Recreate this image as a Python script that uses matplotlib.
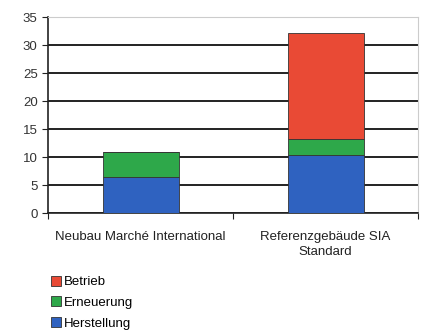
import matplotlib.pyplot as plt
import numpy as np

plt.rcParams['font.family'] = ['Liberation Sans', 'DejaVu Sans']

categories = ['Neubau Marché International', 'Referenzgebäude SIA\nStandard']
herstellung = [6.5, 10.3]
erneuerung = [4.5, 2.9]
betrieb = [0.0, 18.9]

fig = plt.figure(figsize=(4.25, 3.3), dpi=100)
ax = fig.add_axes([0.113, 0.354, 0.871, 0.594])

x = np.arange(len(categories))
w = 0.41
c_blue = '#2f62c0'
c_green = '#2ea84a'
c_red = '#e94a35'

ax.bar(x, herstellung, w, color=c_blue, edgecolor='#333333', linewidth=0.6, label='Herstellung', zorder=3)
ax.bar(x, erneuerung, w, bottom=herstellung, color=c_green, edgecolor='#333333', linewidth=0.6, label='Erneuerung', zorder=3)
bottom2 = np.array(herstellung) + np.array(erneuerung)
ax.bar(x, betrieb, w, bottom=bottom2, color=c_red, edgecolor='#333333', linewidth=0.6, label='Betrieb', zorder=3)

ax.set_xlim(-0.5, 1.5)
ax.set_ylim(0, 35)
ax.set_yticks(range(0, 36, 5))
ax.yaxis.grid(True, color='#222222', linewidth=1.4, zorder=0)
ax.set_axisbelow(True)

ax.set_xticks([-0.5, 0.5, 1.5])
ax.set_xticklabels([])
ax.set_xticks(x, minor=True)
ax.set_xticklabels(categories, minor=True, fontsize=9.5, color='#222222', linespacing=1.35)
ax.tick_params(axis='x', which='minor', length=0, pad=13)
ax.tick_params(axis='x', which='major', length=4, color='#222222')
ax.tick_params(axis='y', length=4, labelsize=9.5, labelcolor='#333333', color='#222222')

ax.spines['top'].set_color('#cccccc')
ax.spines['right'].set_color('#cccccc')
ax.spines['left'].set_color('#222222')
ax.spines['bottom'].set_color('#222222')
ax.spines['left'].set_linewidth(1.2)
ax.spines['bottom'].set_linewidth(1.2)

handles, labels = ax.get_legend_handles_labels()
fig.legend(handles[::-1], labels[::-1], loc='upper left', bbox_to_anchor=(0.108, 0.18),
           frameon=False, fontsize=9.5, handlelength=0.75, handleheight=0.75,
           handletextpad=0.2, labelspacing=0.62, borderaxespad=0)

fig.savefig('out.png')
